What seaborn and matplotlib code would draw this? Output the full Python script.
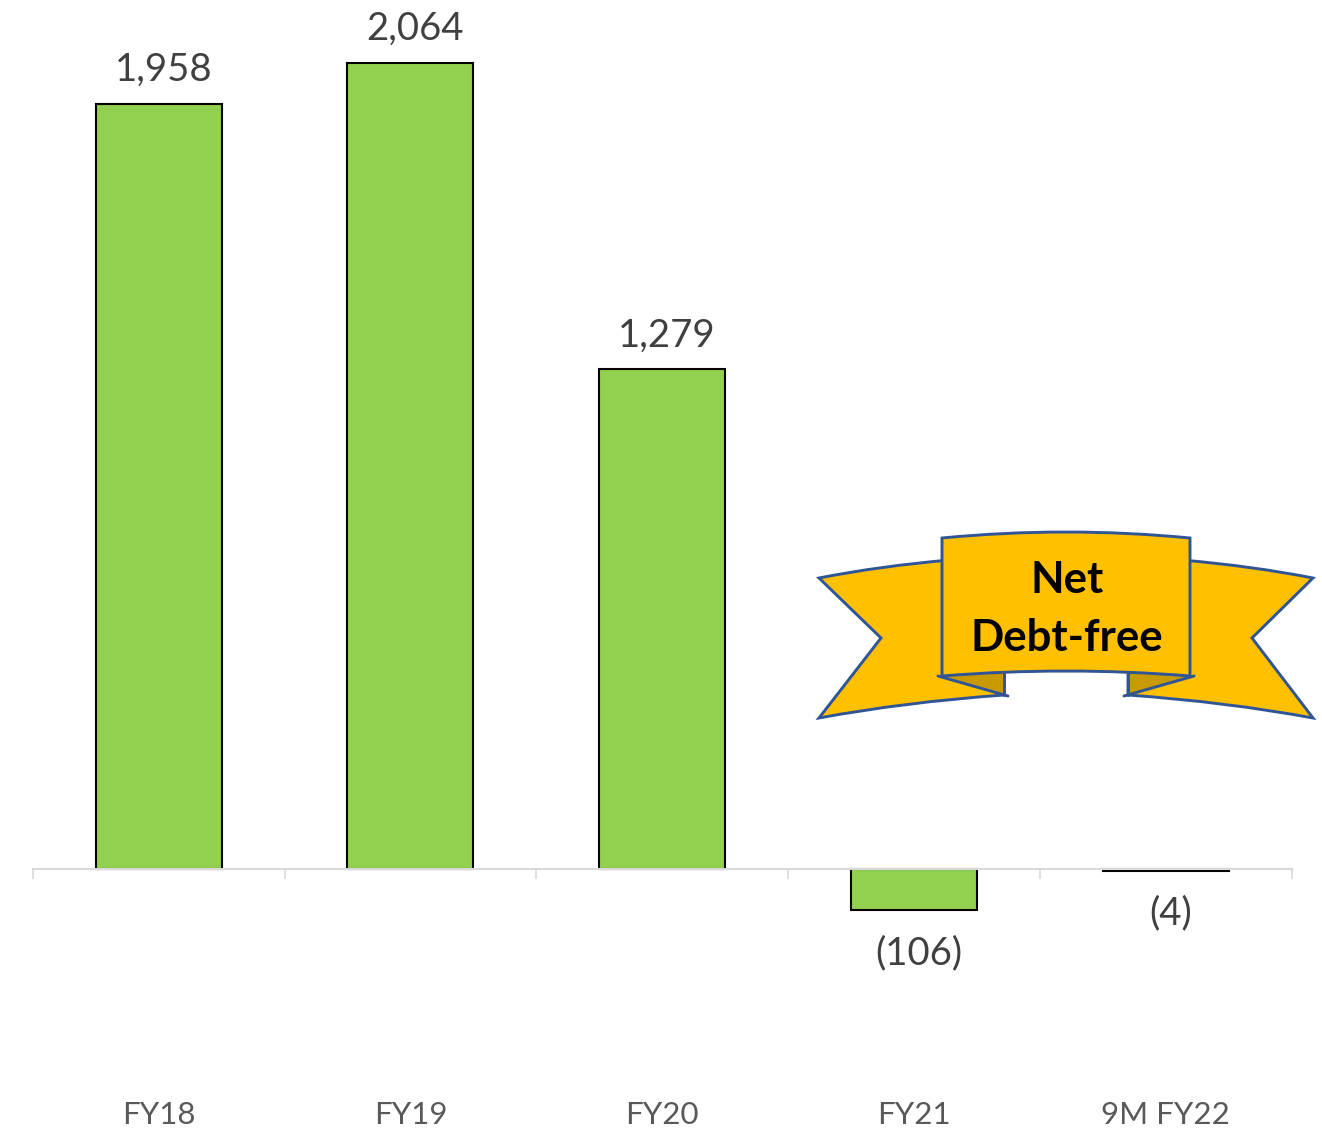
import matplotlib
matplotlib.use('Agg')
import matplotlib.pyplot as plt
from matplotlib.patches import PathPatch
from matplotlib.path import Path
import pandas as pd
import seaborn as sns

# dati
categories = ['FY18', 'FY19', 'FY20', 'FY21', '9M FY22']
values = [1958, 2064, 1279, -106, -4]
badge_lines = ['Net', 'Debt-free']

W, H = 1322, 1130
BASE_PX = 869
PX_PER_UNIT = 765 / 1958

sns.set_theme(style='white')
plt.rcParams['font.family'] = ['Lato', 'DejaVu Sans']

df = pd.DataFrame({'year': categories, 'value': values})

fig = plt.figure(figsize=(W / 100, H / 100), dpi=100)
ax = fig.add_axes([32.7 / W, 0, (1292 - 33) / W, 1])

sns.barplot(data=df, x='year', y='value', color='#92D050', saturation=1,
            width=0.5, edgecolor='black', linewidth=1.5, ax=ax)

ax.set_xlim(-0.5, 4.5)
ax.set_ylim(-(H - BASE_PX) / PX_PER_UNIT, BASE_PX / PX_PER_UNIT)
ax.set_xlabel('')
ax.set_ylabel('')
ax.set_yticks([])

# asse sullo zero, tacche tra le categorie
for s in ['top', 'left', 'right']:
    ax.spines[s].set_visible(False)
ax.spines['bottom'].set_position(('data', 0))
ax.spines['bottom'].set_color('#D9D9D9')
ax.spines['bottom'].set_linewidth(1.5)
ax.set_xticks([i - 0.5 for i in range(len(categories) + 1)], minor=True)
ax.tick_params(axis='x', which='minor', bottom=True, direction='out', length=7.5,
               width=1.2, color='#D9D9D9')
ax.tick_params(axis='x', which='major', bottom=False, length=0, pad=167,
               labelsize=22.5, labelcolor='#595959')

# etichette dei valori
for i, v in enumerate(values):
    label = f'{v:,}' if v >= 0 else f'({-v:,})'
    off = 24.5 if v >= 0 else -31
    ax.annotate(label, (i, v), xytext=(3.6, off), textcoords='offset points',
                ha='center', va='center', fontsize=27.6, color='#404040')

# nastro disegnato sopra, in pixel
ov = fig.add_axes([0, 0, 1, 1])
ov.set_xlim(0, W)
ov.set_ylim(H, 0)
ov.axis('off')
ov.patch.set_alpha(0)

M, L, C, Z = Path.MOVETO, Path.LINETO, Path.CURVE3, Path.CLOSEPOLY
BLUE = '#2F5597'
GOLD = '#FFC000'
DARK = '#C99A00'
LW = 2.1


def shape(pts, codes, fc, ec=BLUE, lw=LW):
    ov.add_patch(PathPatch(Path(pts, codes), facecolor=fc, edgecolor=ec, linewidth=lw,
                           joinstyle='miter'))


# code del nastro
shape([(950, 560), (880, 566), (819, 578), (881, 638), (819, 718), (905, 702), (1004, 695),
       (1004, 672), (950, 672), (950, 560)],
      [M, C, C, L, L, C, C, L, L, Z], GOLD)
shape([(1182, 560), (1252, 566), (1313, 578), (1252, 638), (1313, 718), (1227, 702), (1128, 695),
       (1128, 672), (1182, 672), (1182, 560)],
      [M, C, C, L, L, C, C, L, L, Z], GOLD)

# pieghe scure
shape([(942, 676), (1004, 673), (1004, 695), (942, 676)], [M, L, L, Z], DARK, ec='none', lw=0)
shape([(1190, 676), (1128, 673), (1128, 695), (1190, 676)], [M, L, L, Z], DARK, ec='none', lw=0)
ov.plot([1004, 1004], [673, 695], color=BLUE, lw=LW)
ov.plot([1128, 1128], [673, 695], color=BLUE, lw=LW)
ov.plot([938, 1008], [676, 696], color=BLUE, lw=LW)
ov.plot([1194, 1124], [676, 696], color=BLUE, lw=LW)

# pannello centrale
shape([(942, 538), (1066, 526), (1190, 538), (1190, 676), (1066, 666), (942, 676), (942, 538)],
      [M, C, C, L, C, C, Z], GOLD)

ov.text(1067, 580, badge_lines[0], ha='center', va='center', fontsize=31.5,
        fontweight='bold', color='black')
ov.text(1067, 638, badge_lines[1], ha='center', va='center', fontsize=31.5,
        fontweight='bold', color='black')

fig.savefig('out.png', dpi=100, facecolor='white')
